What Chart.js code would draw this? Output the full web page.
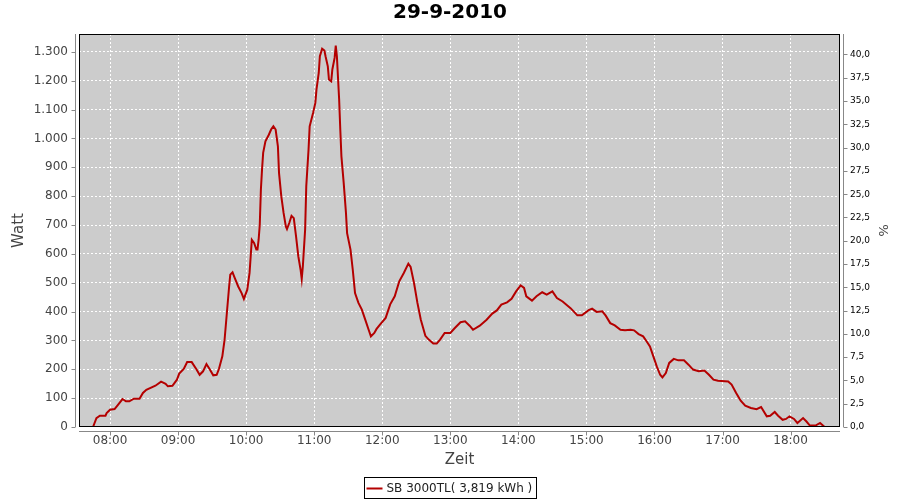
<!DOCTYPE html>
<html>
<head>
<meta charset="utf-8">
<title>29-9-2010</title>
<script src="https://cdn.jsdelivr.net/npm/chart.js@4.4.0/dist/chart.umd.min.js"></script>
<style>
  body { margin: 0; background: #fff; }
  canvas { display: block; }
</style>
</head>
<body>
<canvas id="chart" width="900" height="500"></canvas>
<script>
// Leistungskurve vom 29-9-2010
const times = ['07:45','07:48','07:51','07:56','07:57','08:00','08:04','08:07','08:11','08:14',
  '08:17','08:21','08:26','08:29','08:32','08:40','08:45','08:49','08:51','08:55',
  '08:59','09:01','09:05','09:08','09:12','09:16','09:19','09:22','09:25','09:28',
  '09:31','09:34','09:36','09:39','09:41','09:43','09:45','09:46','09:48','09:50',
  '09:53','09:56','09:58','10:01','10:03','10:04','10:05','10:07','10:09','10:10',
  '10:11','10:12','10:13','10:14','10:15','10:17','10:20','10:22','10:24','10:26',
  '10:28','10:29','10:31','10:33','10:35','10:36','10:38','10:40','10:42','10:44',
  '10:46','10:48','10:49','10:50','10:52','10:53','10:55','10:56','10:59','11:01',
  '11:02','11:04','11:05','11:07','11:09','11:10','11:12','11:13','11:15','11:16',
  '11:18','11:19','11:20','11:22','11:23','11:24','11:26','11:28','11:29','11:32',
  '11:34','11:36','11:39','11:42','11:45','11:48','11:50','11:53','11:55','11:58',
  '12:03','12:07','12:11','12:15','12:19','12:23','12:25','12:28','12:31','12:34',
  '12:38','12:41','12:45','12:48','12:51','12:55','13:00','13:04','13:09','13:13',
  '13:17','13:20','13:26','13:32','13:37','13:41','13:45','13:50','13:54','13:58',
  '14:02','14:05','14:07','14:12','14:16','14:21','14:25','14:30','14:34','14:39',
  '14:46','14:52','14:56','15:02','15:05','15:09','15:14','15:17','15:21','15:25',
  '15:30','15:34','15:39','15:42','15:46','15:50','15:53','15:56','15:59','16:02',
  '16:05','16:07','16:10','16:13','16:17','16:21','16:26','16:30','16:34','16:39',
  '16:44','16:48','16:52','16:56','17:05','17:08','17:12','17:16','17:20','17:25',
  '17:30','17:34','17:39','17:42','17:46','17:49','17:53','17:56','17:59','18:03',
  '18:06','18:11','18:14','18:17','18:22','18:26','18:30'];

const watts = [0,31,39,39,48,60,62,77,97,89,
  89,98,98,118,129,143,157,150,141,143,
  164,185,201,225,225,201,181,193,218,199,
  179,181,201,245,303,395,487,528,536,516,
  487,464,444,476,534,591,649,638,615,615,
  649,700,823,892,950,990,1013,1031,1042,1031,
  973,880,799,742,695,686,707,732,724,661,
  591,545,513,557,684,834,961,1042,1088,1123,
  1169,1227,1285,1311,1305,1285,1250,1204,1198,1239,
  1279,1322,1285,1134,1031,938,846,742,672,615,
  545,464,430,407,372,337,314,326,340,355,
  378,425,453,505,534,566,555,499,430,372,
  316,303,289,289,303,326,326,343,363,366,
  351,337,351,372,393,404,424,432,444,470,
  491,482,453,438,453,467,459,470,447,435,
  412,387,387,405,410,399,401,386,360,352,
  337,335,337,335,322,314,297,279,245,210,
  181,172,187,222,236,231,231,216,199,193,
  196,181,164,160,158,147,118,91,74,66,
  62,69,37,39,52,39,25,28,37,28,
  14,31,19,5,5,14,0];

const seriesLabel = 'SB 3000TL( 3,819 kWh )';
const lineColor = '#b40000';

// Achsenbereiche
const hourMin = 7.544, hourMax = 18.726;
const wattMax = 1362, percentMax = 42.2;

function toHours(s) {
  const p = s.split(':');
  return +p[0] + p[1] / 60;
}

Chart.defaults.font.family = "'DejaVu Sans', sans-serif";

// Plot-Hintergrund, Rahmen, abgesetzte Achsen und Legende
const plotDeco = {
  id: 'plotDeco',
  beforeDraw(chart) {
    const { ctx, chartArea: a } = chart;
    ctx.save();
    ctx.fillStyle = '#cccccc';
    ctx.fillRect(a.left, a.top, a.width, a.height);
    ctx.restore();
  },
  afterDraw(chart) {
    const { ctx, chartArea: a, scales } = chart;
    ctx.save();
    ctx.strokeStyle = '#000';
    ctx.lineWidth = 1;
    ctx.strokeRect(a.left + 0.5, a.top + 0.5, a.width - 1, a.height - 1);

    ctx.strokeStyle = '#888';
    ctx.beginPath();
    const lx = a.left - 3.5, rx = a.right + 3.5, by = a.bottom + 4.5;
    ctx.moveTo(lx, a.top); ctx.lineTo(lx, a.bottom);
    ctx.moveTo(rx, a.top); ctx.lineTo(rx, a.bottom);
    ctx.moveTo(a.left, by); ctx.lineTo(a.right, by);
    scales.y.ticks.forEach(t => {
      const py = Math.round(scales.y.getPixelForValue(t.value)) + 0.5;
      ctx.moveTo(lx - 4, py); ctx.lineTo(lx, py);
    });
    scales.y1.ticks.forEach(t => {
      const py = Math.round(scales.y1.getPixelForValue(t.value)) + 0.5;
      ctx.moveTo(rx, py); ctx.lineTo(rx + 4, py);
    });
    scales.x.ticks.forEach(t => {
      const px = Math.round(scales.x.getPixelForValue(t.value)) + 0.5;
      ctx.moveTo(px, by); ctx.lineTo(px, by + 4);
    });
    ctx.stroke();

    // Legende
    ctx.font = "12px 'DejaVu Sans'";
    const tw = ctx.measureText(seriesLabel).width;
    const w = Math.round(tw + 26), h = 21;
    const x0 = Math.round(chart.width / 2 - w / 2) + 0.5, y0 = 477.5;
    ctx.strokeStyle = '#000';
    ctx.strokeRect(x0, y0, w, h);
    ctx.strokeStyle = lineColor;
    ctx.lineWidth = 2;
    ctx.beginPath();
    ctx.moveTo(x0 + 2, y0 + 11); ctx.lineTo(x0 + 18, y0 + 11);
    ctx.stroke();
    ctx.fillStyle = '#222';
    ctx.textBaseline = 'middle';
    ctx.fillText(seriesLabel, x0 + 22, y0 + 11);
    ctx.restore();
  }
};

new Chart(document.getElementById('chart'), {
  type: 'line',
  data: {
    datasets: [{
      label: seriesLabel,
      data: times.map((t, i) => ({ x: toHours(t), y: watts[i] })),
      borderColor: lineColor,
      backgroundColor: lineColor,
      borderWidth: 2,
      pointRadius: 0,
      tension: 0,
      fill: false,
      yAxisID: 'y'
    }]
  },
  options: {
    responsive: false,
    animation: false,
    devicePixelRatio: 1,
    layout: { padding: { left: 0, right: 0, top: 0, bottom: 30 } },
    plugins: {
      legend: { display: false },
      tooltip: { enabled: false },
      title: {
        display: true,
        text: '29-9-2010',
        color: '#000',
        font: { size: 20, weight: 'bold' },
        padding: { top: 1, bottom: 9 }
      }
    },
    scales: {
      x: {
        type: 'linear',
        min: hourMin,
        max: hourMax,
        afterFit(s) { s.height = 43; },
        border: { display: false, dash: [2, 2] },
        grid: { color: '#ffffff', drawTicks: false },
        ticks: {
          stepSize: 1,
          includeBounds: false,
          autoSkip: false,
          maxRotation: 0,
          padding: 7,
          color: '#444',
          font: { size: 12 },
          callback: v => (v < 10 ? '0' : '') + v + ':00'
        },
        title: {
          display: true,
          text: 'Zeit',
          color: '#444',
          font: { size: 15 },
          padding: { top: 0, bottom: 1 }
        }
      },
      y: {
        position: 'left',
        min: 0,
        max: wattMax,
        afterFit(s) { s.width = 79; },
        border: { display: false, dash: [2, 2] },
        grid: { color: '#ffffff', drawTicks: false },
        ticks: {
          stepSize: 100,
          includeBounds: false,
          autoSkip: false,
          padding: 11,
          color: '#444',
          font: { size: 12 },
          callback: v => v.toLocaleString('de-DE')
        },
        title: {
          display: true,
          text: 'Watt',
          color: '#444',
          font: { size: 15 },
          padding: { top: 10, bottom: 0 }
        }
      },
      y1: {
        position: 'right',
        min: 0,
        max: percentMax,
        afterFit(s) { s.width = 60; },
        border: { display: false },
        grid: { drawOnChartArea: false, drawTicks: false },
        ticks: {
          stepSize: 2.5,
          includeBounds: false,
          autoSkip: false,
          padding: 10,
          color: '#000',
          font: { size: 9 },
          callback: v => v.toFixed(1).replace('.', ',')
        },
        title: {
          display: true,
          text: '%',
          color: '#444',
          font: { size: 13 },
          padding: { top: 10, bottom: 0 }
        }
      }
    }
  },
  plugins: [plotDeco]
});
</script>
</body>
</html>
